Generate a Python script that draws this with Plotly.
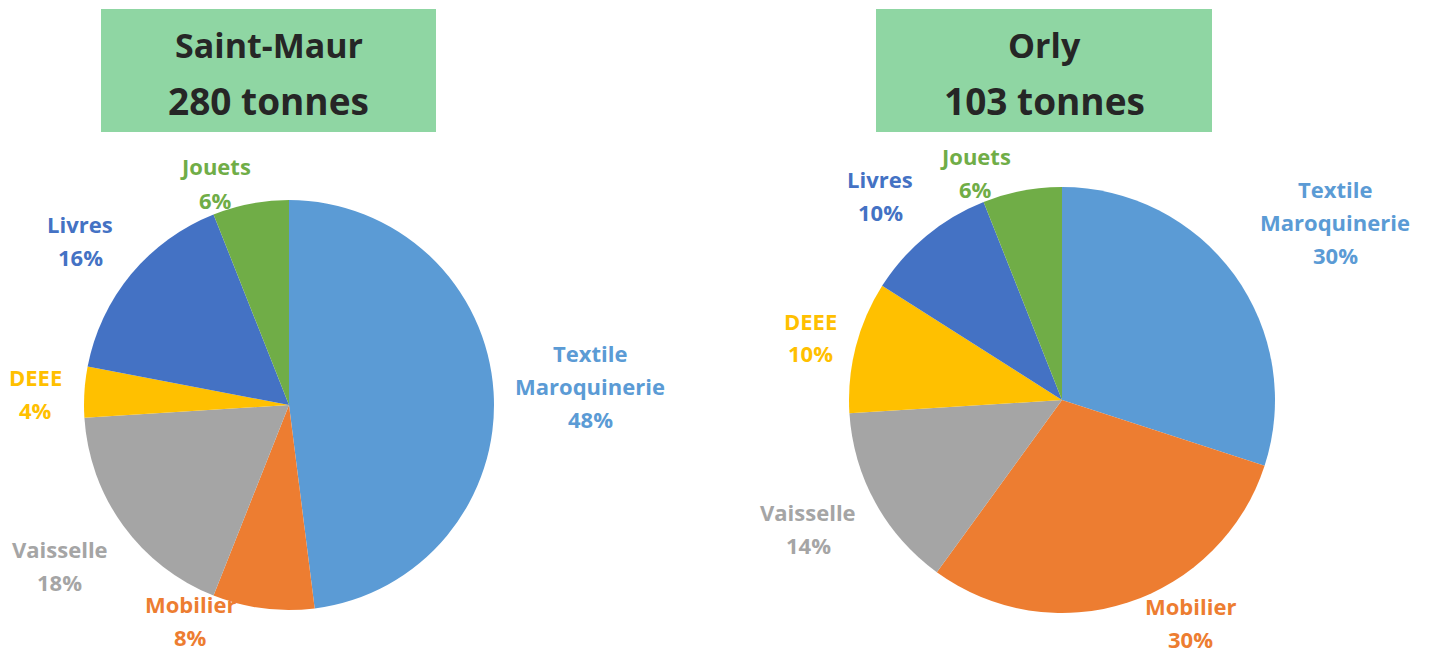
import plotly.graph_objects as go

# ---- data ----
categories = ["Textile Maroquinerie", "Mobilier", "Vaisselle", "DEEE", "Livres", "Jouets"]
short_names = [["Textile", "Maroquinerie"], ["Mobilier"], ["Vaisselle"], ["DEEE"], ["Livres"], ["Jouets"]]
saint_maur_pct = [48, 8, 18, 4, 16, 6]
orly_pct = [30, 30, 14, 10, 10, 6]
titles = [("Saint-Maur", "280 tonnes"), ("Orly", "103 tonnes")]

# ---- styles ----
colors = ["#5B9BD5", "#ED7D31", "#A5A5A5", "#FFC000", "#4472C4", "#70AD47"]
label_colors = ["#5B9BD5", "#ED7D31", "#A5A5A5", "#FFC000", "#4472C4", "#70AD47"]
W, H = 1432, 656
FONT = "Open Sans"

# label centres (pixels) for each pie, in category order
label_pos = [
    [(590, 386), (190, 620), (60, 565), (35, 393), (80, 240), (215, 183)],
    [(1335, 222), (1190, 622), (808, 528), (810, 337), (880, 195), (975, 172)],
]
pie_boxes = [(84, 200, 494, 610), (849, 187, 1275, 613)]  # x0,y0,x1,y1 px
title_boxes = [(101, 9, 436, 132), (876, 9, 1212, 132)]
LINE = 33

fig = go.Figure()
for i, vals in enumerate([saint_maur_pct, orly_pct]):
    x0, y0, x1, y1 = pie_boxes[i]
    fig.add_trace(go.Pie(
        labels=categories, values=vals, sort=False, direction="clockwise",
        rotation=0, textinfo="none", hoverinfo="label+percent",
        marker=dict(colors=colors, line=dict(color="white", width=0)),
        domain=dict(x=[x0 / W, x1 / W], y=[1 - y1 / H, 1 - y0 / H]),
        showlegend=False,
    ))

shapes = []
annotations = []
for i, (t1, t2) in enumerate(titles):
    bx0, by0, bx1, by1 = title_boxes[i]
    shapes.append(dict(type="rect", xref="paper", yref="paper",
                       x0=bx0 / W, x1=bx1 / W, y0=1 - by1 / H, y1=1 - by0 / H,
                       fillcolor="#8FD6A3", line=dict(width=0), layer="below"))
    cx = (bx0 + bx1) / 2 / W
    annotations.append(dict(x=cx, y=1 - 45 / H, xref="paper", yref="paper",
                            xanchor="center", yanchor="middle",
                            text=f"<b>{t1}</b>", showarrow=False,
                            font=dict(family=FONT, size=34, color="#262626")))
    annotations.append(dict(x=cx, y=1 - 100 / H, xref="paper", yref="paper",
                            xanchor="center", yanchor="middle",
                            text=f"<b>{t2}</b>", showarrow=False,
                            font=dict(family=FONT, size=37, color="#262626")))

for i, vals in enumerate([saint_maur_pct, orly_pct]):
    for k, v in enumerate(vals):
        lines = short_names[k] + [f"{v}%"]
        cx, cy = label_pos[i][k]
        n = len(lines)
        for j, ln in enumerate(lines):
            y = cy + (j - (n - 1) / 2) * LINE
            annotations.append(dict(x=cx / W, y=1 - y / H, xref="paper", yref="paper",
                                    xanchor="center", yanchor="middle",
                                    text=f"<b>{ln}</b>", showarrow=False,
                                    font=dict(family=FONT, size=22, color=label_colors[k])))

fig.update_layout(width=W, height=H, margin=dict(l=0, r=0, t=0, b=0),
                  paper_bgcolor="white", plot_bgcolor="white",
                  shapes=shapes, annotations=annotations)
fig.write_html("out.html", config={"displayModeBar": False},
               post_script="document.body.style.margin='0';")
